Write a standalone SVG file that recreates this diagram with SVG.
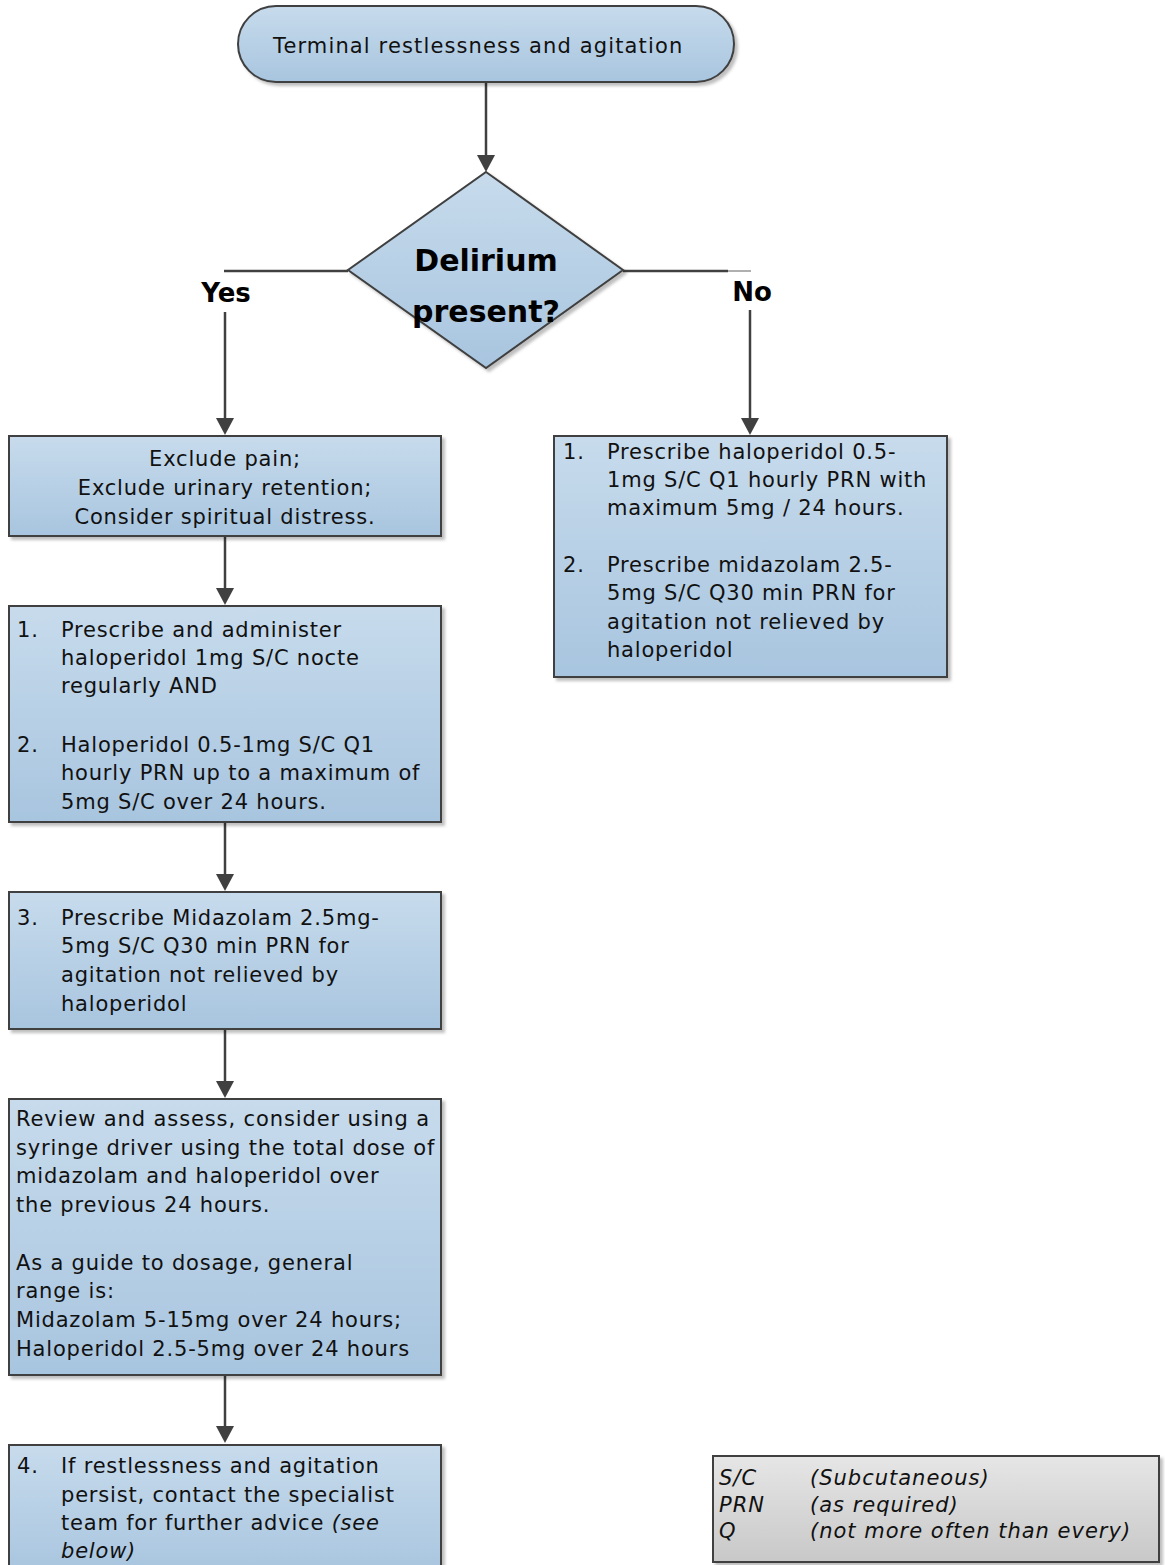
<svg xmlns="http://www.w3.org/2000/svg" width="1165" height="1565" viewBox="0 0 1165 1565">
<defs>
<linearGradient id="blue" x1="0" y1="0" x2="0" y2="1">
<stop offset="0" stop-color="#c7dbec"/>
<stop offset="1" stop-color="#a8c5df"/>
</linearGradient>
<linearGradient id="grey" x1="0" y1="0" x2="0" y2="1">
<stop offset="0" stop-color="#e6e6e6"/>
<stop offset="1" stop-color="#c8c8c8"/>
</linearGradient>
<filter id="sh" x="-5%" y="-5%" width="112%" height="115%">
<feDropShadow dx="3" dy="3" stdDeviation="1.5" flood-color="#000" flood-opacity="0.25"/>
</filter>
<style>
.node{fill:url(#blue);stroke:#404040;stroke-width:2;filter:url(#sh)}
.leg{fill:url(#grey);stroke:#404040;stroke-width:2;filter:url(#sh)}
.t{font-family:"DejaVu Sans","Liberation Sans",sans-serif;font-size:21px;letter-spacing:0.8px;fill:#111}
.b{font-family:"DejaVu Sans","Liberation Sans",sans-serif;font-weight:bold;fill:#000}
.i{font-family:"DejaVu Sans","Liberation Sans",sans-serif;font-size:21px;letter-spacing:1px;font-style:italic;fill:#111}
.c{stroke:#404040;stroke-width:2.5;fill:none}
.ah{fill:#404040}
</style>
</defs>

<g id="connectors">
<line class="c" x1="486" y1="82" x2="486" y2="158"/>
<path class="ah" d="M477,155 L495,155 L486,172 Z"/>
<polyline class="c" points="348,271 224,271"/>
<line class="c" x1="225" y1="312" x2="225" y2="420"/>
<path class="ah" d="M216,418 L234,418 L225,435 Z"/>
<polyline class="c" points="623,271 728,271"/>
<line x1="728" y1="271" x2="751" y2="271" stroke="#606060" stroke-width="1"/>
<line class="c" x1="750" y1="310" x2="750" y2="420"/>
<path class="ah" d="M741,418 L759,418 L750,435 Z"/>
<line class="c" x1="225" y1="536" x2="225" y2="590"/>
<path class="ah" d="M216,588 L234,588 L225,605 Z"/>
<line class="c" x1="225" y1="822" x2="225" y2="876"/>
<path class="ah" d="M216,874 L234,874 L225,891 Z"/>
<line class="c" x1="225" y1="1029" x2="225" y2="1083"/>
<path class="ah" d="M216,1081 L234,1081 L225,1098 Z"/>
<line class="c" x1="225" y1="1375" x2="225" y2="1428"/>
<path class="ah" d="M216,1426 L234,1426 L225,1443 Z"/>
</g>

<g id="labels">
<text class="b" x="226" y="302" font-size="26" text-anchor="middle">Yes</text>
<text class="b" x="752" y="301" font-size="26" text-anchor="middle">No</text>
</g>

<g id="start">
<rect class="node" x="238" y="6" width="496" height="76" rx="38" ry="38"/>
<text class="t" x="273" y="53" textLength="410" lengthAdjust="spacing">Terminal restlessness and agitation</text>
</g>

<g id="decision">
<polygon class="node" points="486,172 623,270 486,368 348,270"/>
<text class="b" font-size="30" text-anchor="middle"><tspan x="486" y="271">Delirium</tspan><tspan x="486" y="322">present?</tspan></text>
</g>

<g id="exclude">
<rect class="node" x="9" y="436" width="432" height="100"/>
<text class="t" text-anchor="middle"><tspan x="225" y="466">Exclude pain;</tspan><tspan x="225" y="495">Exclude urinary retention;</tspan><tspan x="225" y="524">Consider spiritual distress.</tspan></text>
</g>

<g id="step12">
<rect class="node" x="9" y="606" width="432" height="216"/>
<text class="t"><tspan x="17" y="637">1.</tspan><tspan x="61" y="637">Prescribe and administer</tspan><tspan x="61" y="665">haloperidol 1mg S/C nocte</tspan><tspan x="61" y="693">regularly AND</tspan><tspan x="17" y="752">2.</tspan><tspan x="61" y="752">Haloperidol 0.5-1mg S/C Q1</tspan><tspan x="61" y="780">hourly PRN up to a maximum of</tspan><tspan x="61" y="809">5mg S/C over 24 hours.</tspan></text>
</g>

<g id="step3">
<rect class="node" x="9" y="892" width="432" height="137"/>
<text class="t"><tspan x="17" y="925">3.</tspan><tspan x="61" y="925">Prescribe Midazolam 2.5mg-</tspan><tspan x="61" y="953">5mg S/C Q30 min PRN for</tspan><tspan x="61" y="982">agitation not relieved by</tspan><tspan x="61" y="1011">haloperidol</tspan></text>
</g>

<g id="review">
<rect class="node" x="9" y="1099" width="432" height="276"/>
<text class="t"><tspan x="16" y="1126" textLength="414" lengthAdjust="spacing">Review and assess, consider using a</tspan><tspan x="16" y="1155">syringe driver using the total dose of</tspan><tspan x="16" y="1183">midazolam and haloperidol over</tspan><tspan x="16" y="1212">the previous 24 hours.</tspan><tspan x="16" y="1270">As a guide to dosage, general</tspan><tspan x="16" y="1298">range is:</tspan><tspan x="16" y="1327">Midazolam 5-15mg over 24 hours;</tspan><tspan x="16" y="1356">Haloperidol 2.5-5mg over 24 hours</tspan></text>
</g>

<g id="step4">
<rect class="node" x="9" y="1445" width="432" height="130"/>
<text class="t"><tspan x="17" y="1473">4.</tspan><tspan x="61" y="1473">If restlessness and agitation</tspan><tspan x="61" y="1502">persist, contact the specialist</tspan><tspan x="61" y="1530">team for further advice <tspan font-style="italic">(see</tspan></tspan><tspan x="61" y="1558" font-style="italic">below)</tspan></text>
</g>

<g id="no-branch">
<rect class="node" x="554" y="436" width="393" height="241"/>
<text class="t"><tspan x="563" y="459">1.</tspan><tspan x="607" y="459">Prescribe haloperidol 0.5-</tspan><tspan x="607" y="487">1mg S/C Q1 hourly PRN with</tspan><tspan x="607" y="515">maximum 5mg / 24 hours.</tspan><tspan x="563" y="572">2.</tspan><tspan x="607" y="572">Prescribe midazolam 2.5-</tspan><tspan x="607" y="600">5mg S/C Q30 min PRN for</tspan><tspan x="607" y="629">agitation not relieved by</tspan><tspan x="607" y="657">haloperidol</tspan></text>
</g>

<g id="legend">
<rect class="leg" x="713" y="1456" width="446" height="106"/>
<text class="i"><tspan x="719" y="1485">S/C</tspan><tspan x="810" y="1485">(Subcutaneous)</tspan><tspan x="719" y="1512">PRN</tspan><tspan x="810" y="1512">(as required)</tspan><tspan x="719" y="1538">Q</tspan><tspan x="810" y="1538">(not more often than every)</tspan></text>
</g>
</svg>
